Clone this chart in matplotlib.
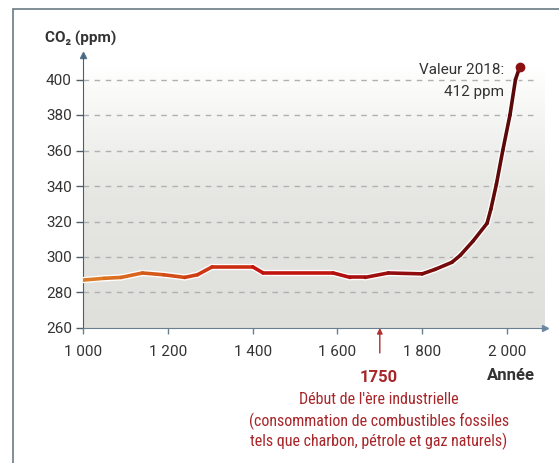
import numpy as np
import matplotlib
matplotlib.use("Agg")
import matplotlib.pyplot as plt
from matplotlib import font_manager
from matplotlib.collections import LineCollection
from matplotlib.colors import LinearSegmentedColormap
from matplotlib.patches import Rectangle
import matplotlib.patheffects as pe

# police étroite si elle existe (pour le texte rouge)
noms = {f.name for f in font_manager.fontManager.ttflist}
etroite = [n for n in ['Roboto Condensed', 'Liberation Sans Narrow'] if n in noms] + ['DejaVu Sans']
plt.rcParams['font.family'] = ['Roboto', 'DejaVu Sans']

# données
annees = [1000, 1050, 1090, 1140, 1190, 1240, 1270, 1305, 1400, 1425, 1590, 1630,
          1665, 1720, 1800, 1830, 1870, 1890, 1920, 1953, 1962, 1975, 1990, 2007, 2020, 2030]
co2 = [287, 288, 288.5, 291, 290, 288.5, 290, 294.5, 294.5, 291, 291, 288.5,
       288.5, 291, 290.5, 293, 297, 301, 309, 319, 327, 341, 360, 380, 400, 407]
yticks = [260, 280, 300, 320, 340, 360, 380, 400]
xticks = [1000, 1200, 1400, 1600, 1800, 2000]
xlabels = ['1 000', '1 200', '1 400', '1 600', '1 800', '2 000']
debut_indus = 1700   # position de la flèche "1750" sur le dessin

W, H = 559, 463
fig = plt.figure(figsize=(W / 100, H / 100), dpi=100)
fig.patch.set_facecolor('white')

# cadre extérieur
fig.patches.append(Rectangle((13 / W, -0.1), 1.2, 1 - 9 / H + 0.1, transform=fig.transFigure,
                             fill=False, edgecolor='#6a7a84', linewidth=1.2))

ax = fig.add_axes([83 / W, 1 - 328 / H, (545 - 83) / W, (328 - 55) / H])
xmax = 1000 + (545 - 83) / 0.424
ymax = 260 + (328 - 55) / 1.775
ax.set_xlim(1000, xmax)
ax.set_ylim(260, ymax)

# fond en dégradé
grad = np.linspace(0, 1, 256).reshape(-1, 1)
cm_fond = LinearSegmentedColormap.from_list('fond', ['#dfdfdb', '#e6e6e2', '#ffffff'])
ax.imshow(grad, aspect='auto', cmap=cm_fond, origin='lower',
          extent=[1000, xmax, 260, 408], zorder=0)

for y in yticks[1:]:
    ax.axhline(y, xmax=0.985, color='#b0b0b0', lw=1, ls=(0, (4, 4)), zorder=1)

# courbe
pts = np.array([annees, co2]).T.reshape(-1, 1, 2)
segs = np.concatenate([pts[:-1], pts[1:]], axis=1)
cm_ligne = LinearSegmentedColormap.from_list('ligne', ['#de7a24', '#d24a18', '#c4140e', '#b01010', '#7a0c0c', '#5a0808'])
lc = LineCollection(segs, cmap=cm_ligne, linewidth=2.6, zorder=3, capstyle='round', joinstyle='round')
lc.set_array(np.array(annees[:-1], dtype=float))
lc.set_clim(1000, 2010)
lc.set_path_effects([pe.Stroke(linewidth=4.5, foreground='white'), pe.Normal()])
ax.add_collection(lc)
ax.plot(annees[-1], co2[-1], 'o', color='#8b1010', markersize=6, zorder=4)

for s in ['top', 'right']:
    ax.spines[s].set_visible(False)
ax.spines['left'].set_color('#4f5f6a')
ax.spines['bottom'].set_color('#6a8090')
ax.plot(1, 0, '>', color='#6a8aa8', markersize=5, transform=ax.transAxes, clip_on=False)
ax.plot(0, 1, '^', color='#4f6f8a', markersize=5, transform=ax.transAxes, clip_on=False)

ax.set_yticks(yticks)
ax.set_xticks(xticks)
ax.set_xticklabels(xlabels)
ax.tick_params(axis='y', length=5, width=1, color='#4f5f6a', labelsize=11, labelcolor='#333333', pad=3)
ax.tick_params(axis='x', length=4, width=1, color='#6a8090', labelsize=11, labelcolor='#333333', pad=8)

fig.text(45 / W, 1 - 38 / H, 'CO₂ (ppm)', fontsize=11, fontweight='bold', color='#333333', va='center')
fig.text(504 / W, 1 - 70 / H, 'Valeur 2018:', fontsize=11, color='#333333', ha='right', va='center')
fig.text(504 / W, 1 - 92 / H, '412 ppm', fontsize=11, color='#333333', ha='right', va='center')
fig.text(511 / W, 1 - 376 / H, 'Année', fontsize=12, fontweight='bold', color='#333333', ha='center', va='center')

ax.annotate('', xy=(debut_indus, 260), xycoords='data',
            xytext=(debut_indus, 260 - (353 - 328) / 1.775), textcoords='data',
            arrowprops=dict(arrowstyle='-|>', color='#b03030', lw=1, mutation_scale=8, shrinkA=0, shrinkB=0),
            annotation_clip=False)
rouge = '#a8262a'
fig.text(379 / W, 1 - 377 / H, '1750', fontsize=12, fontweight='bold', color=rouge, ha='center', va='center')
fig.text(379 / W, 1 - 400 / H, "Début de l'ère industrielle", fontsize=11.5, color=rouge,
         ha='center', va='center', family=etroite)
fig.text(379 / W, 1 - 421 / H, '(consommation de combustibles fossiles', fontsize=11.5, color=rouge,
         ha='center', va='center', family=etroite)
fig.text(379 / W, 1 - 441 / H, 'tels que charbon, pétrole et gaz naturels)', fontsize=11.5, color=rouge,
         ha='center', va='center', family=etroite)

fig.savefig('out.png', dpi=100)
